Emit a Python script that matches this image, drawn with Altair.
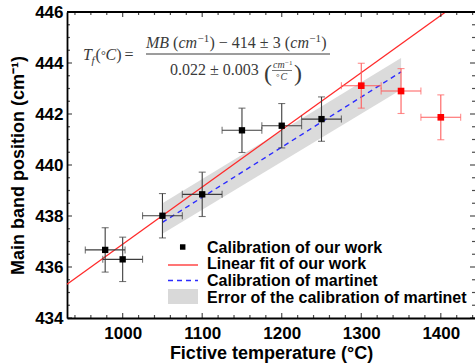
import altair as alt
import pandas as pd

# Calibration points of our work (black)
temp_ours = [978, 1000, 1050, 1100, 1150, 1200, 1250]
mb_ours = [436.67, 436.30, 438.01, 438.85, 441.36, 441.54, 441.80]
temp_err_ours = [25, 25, 25, 25, 25, 25, 25]
mb_err_ours = [0.87, 0.87, 0.87, 0.87, 0.87, 0.87, 0.87]

# High-temperature points (red)
temp_hot = [1300, 1350, 1400]
mb_hot = [443.11, 442.90, 441.87]
temp_err_hot = [25, 25, 25]
mb_err_hot = [0.88, 0.88, 0.88]

# Linear fit of our work, given by its two end points
fit_temp = [930, 1406]
fit_mb = [435.32, 446.0]

# Calibration of Martinet and its error band
martinet_temp = [1050, 1350]
martinet_mb = [437.75, 443.65]
martinet_lo = [437.30, 442.95]
martinet_hi = [438.50, 444.20]

# Axis ticks
x_major = [1000, 1100, 1200, 1300, 1400]
x_minor = [t for t in range(940, 1441, 20) if t % 100 != 0]
y_major = [434, 436, 438, 440, 442, 444, 446]
y_minor = [434.5 + 0.5 * i for i in range(24) if (434.5 + 0.5 * i) % 2 != 0]

legend_labels = [
    "Calibration of our work",
    "Linear fit of our work",
    "Calibration of martinet",
    "Error of the calibration of martinet",
]

W, H = 408, 306
SANS = "Liberation Sans"
SERIF = "Liberation Serif"
EQ = "#3a3a3a"

xscale = alt.Scale(domain=[930, 1443], nice=False, zero=False)
yscale = alt.Scale(domain=[434, 446], nice=False, zero=False)

xaxis = alt.Axis(
    values=x_major, format="d", ticks=False, grid=False,
    domain=True, domainColor="black", domainWidth=1.8,
    labelFont=SANS, labelFontWeight="bold", labelFontSize=17, labelColor="black",
    labelPadding=7,
    title="Fictive temperature (°C)", titleFont=SANS, titleFontWeight="bold",
    titleFontSize=18, titleColor="black", titlePadding=3,
)
yaxis = alt.Axis(
    values=y_major, format="d", ticks=False, grid=False,
    domain=True, domainColor="black", domainWidth=1.8,
    labelFont=SANS, labelFontWeight="bold", labelFontSize=17, labelColor="black",
    labelPadding=4,
    title="Main band position (cm⁻¹)", titleFont=SANS, titleFontWeight="bold",
    titleFontSize=18, titleColor="black", titlePadding=7,
)


def X(field):
    return alt.X(f"{field}:Q", scale=xscale, axis=xaxis)


def Y(field):
    return alt.Y(f"{field}:Q", scale=yscale, axis=yaxis)


def pts_frame(t, mb, te, me):
    df = pd.DataFrame({"t": t, "mb": mb, "te": te, "me": me})
    df["tlo"] = df.t - df.te
    df["thi"] = df.t + df.te
    df["mlo"] = df.mb - df.me
    df["mhi"] = df.mb + df.me
    return df


ours = pts_frame(temp_ours, mb_ours, temp_err_ours, mb_err_ours)
hot = pts_frame(temp_hot, mb_hot, temp_err_hot, mb_err_hot)

layers = []

# Martinet error band and line
band = pd.DataFrame({"t": martinet_temp, "lo": martinet_lo, "hi": martinet_hi})
layers.append(
    alt.Chart(band).mark_area(color="#d9d9d9", opacity=0.95).encode(
        x=X("t"), y=Y("lo"), y2="hi:Q"
    )
)
mart = pd.DataFrame({"t": martinet_temp, "mb": martinet_mb})
layers.append(
    alt.Chart(mart).mark_line(color="#2b2bff", strokeWidth=1.4, strokeDash=[5, 4]).encode(
        x=X("t"), y=Y("mb")
    )
)

# Linear fit
fit = pd.DataFrame({"t": fit_temp, "mb": fit_mb})
layers.append(
    alt.Chart(fit).mark_line(color="#ff2a2a", strokeWidth=1.3).encode(x=X("t"), y=Y("mb"))
)


def error_layers(df, color):
    out = []
    out.append(alt.Chart(df).mark_rule(color=color, strokeWidth=1.1).encode(
        x=X("t"), y=Y("mlo"), y2="mhi:Q"))
    out.append(alt.Chart(df).mark_rule(color=color, strokeWidth=1.1).encode(
        x=X("tlo"), x2="thi:Q", y=Y("mb")))
    for f in ["mlo", "mhi"]:
        out.append(alt.Chart(df).mark_tick(color=color, orient="horizontal", size=7, thickness=1.1).encode(
            x=X("t"), y=Y(f)))
    for f in ["tlo", "thi"]:
        out.append(alt.Chart(df).mark_tick(color=color, orient="vertical", size=7, thickness=1.1).encode(
            x=X(f), y=Y("mb")))
    return out


layers += error_layers(ours, "#3c3c3c")
layers += error_layers(hot, "#ff5c5c")
layers.append(alt.Chart(ours).mark_square(color="black", size=40, opacity=1).encode(x=X("t"), y=Y("mb")))
layers.append(alt.Chart(hot).mark_square(color="#ff0000", size=44, opacity=1).encode(x=X("t"), y=Y("mb")))

# Frame ticks pointing inward, and the top frame line
xmaj = pd.DataFrame({"v": x_major})
xmin = pd.DataFrame({"v": x_minor})
ymaj = pd.DataFrame({"v": y_major})
ymin = pd.DataFrame({"v": y_minor})
for df, size in [(xmaj, 5), (xmin, 3)]:
    layers.append(alt.Chart(df).mark_tick(color="black", orient="vertical", size=size, thickness=1.2).encode(
        x=X("v"), y=alt.value(H - size / 2)))
    layers.append(alt.Chart(df).mark_tick(color="black", orient="vertical", size=size, thickness=1.2).encode(
        x=X("v"), y=alt.value(size / 2)))
for df, size in [(ymaj, 5), (ymin, 3)]:
    layers.append(alt.Chart(df).mark_tick(color="black", orient="horizontal", size=size, thickness=1.2).encode(
        y=Y("v"), x=alt.value(size / 2)))
    layers.append(alt.Chart(df).mark_tick(color="black", orient="horizontal", size=size, thickness=1.2).encode(
        y=Y("v"), x=alt.value(W - size / 2)))

one = pd.DataFrame({"k": [0]})
layers.append(alt.Chart(one).mark_rule(color="black", strokeWidth=1.8).encode(
    x=alt.value(0), x2=alt.value(W), y=alt.value(0)))

# Legend (drawn inside the plot, lower right)
OX, OY = 67, 12
layers.append(alt.Chart(one).mark_square(color="black", size=30, opacity=1).encode(
    x=alt.value(182.7 - OX), y=alt.value(247 - OY)))
layers.append(alt.Chart(one).mark_rule(color="#ff2a2a", strokeWidth=1.3).encode(
    x=alt.value(168 - OX), x2=alt.value(198 - OX), y=alt.value(265 - OY)))
layers.append(alt.Chart(one).mark_rule(color="#2b2bff", strokeWidth=1.4, strokeDash=[5, 4]).encode(
    x=alt.value(168 - OX), x2=alt.value(198 - OX), y=alt.value(280.5 - OY)))
layers.append(alt.Chart(one).mark_rect(color="#d9d9d9").encode(
    x=alt.value(168 - OX), x2=alt.value(198 - OX), y=alt.value(289 - OY), y2=alt.value(304 - OY)))
for i, lab in enumerate(legend_labels):
    layers.append(alt.Chart(one).mark_text(
        text=lab, font=SANS, fontWeight="bold", fontSize=16, color="black",
        align="left", baseline="middle").encode(
        x=alt.value(207 - OX), y=alt.value(247.5 + 16.9 * i - OY)))


# Equation for the fictive temperature
def eq_text(txt, x, y, size=16, italic=False):
    kw = dict(text=txt, font=SERIF, fontSize=size, color=EQ, align="left", baseline="alphabetic")
    if italic:
        kw["fontStyle"] = "italic"
    return alt.Chart(one).mark_text(**kw).encode(x=alt.value(x - OX), y=alt.value(y - OY))


eq_parts = [
    ("T", 83, 60, 16, True),
    ("f", 91.5, 63.5, 11, True),
    ("(", 95.5, 60, 16, False),
    ("°", 101, 59, 12, False),
    ("C", 105.5, 60, 16, True),
    (")", 116.3, 60, 16, False),
    ("=", 124.5, 60, 16, False),
    ("MB", 146, 48, 16, True),
    ("(", 173, 48, 16, False),
    ("cm", 178.5, 48, 16, True),
    ("−1", 197.5, 42, 11, False),
    (") − 414 ± 3 (", 209.5, 48, 16, False),
    ("cm", 290.3, 48, 16, True),
    ("−1", 309.3, 42, 11, False),
    (")", 321.3, 48, 16, False),
    ("0.022 ± 0.003", 170, 75, 16, False),
    ("(", 264, 81, 24, False),
    ("cm", 273, 67.5, 10, True),
    ("−1", 285, 64.5, 7, False),
    ("°", 276, 80, 9, False),
    ("C", 280.5, 80, 10, True),
    (")", 294, 81, 24, False),
]
for txt, x, y, s, it in eq_parts:
    layers.append(eq_text(txt, x, y, s, it))

layers.append(alt.Chart(one).mark_rule(color=EQ, strokeWidth=1).encode(
    x=alt.value(146 - OX), x2=alt.value(330 - OX), y=alt.value(54 - OY)))
layers.append(alt.Chart(one).mark_rule(color=EQ, strokeWidth=0.7).encode(
    x=alt.value(272 - OX), x2=alt.value(292 - OX), y=alt.value(70.5 - OY)))

chart = alt.layer(*layers).properties(
    width=W, height=H,
    padding={"left": OX, "top": OY, "right": 0, "bottom": 46},
    autosize=alt.AutoSizeParams(type="none"),
).configure_view(stroke=None).configure(background="white")

chart.save("out.html", embed_options={"renderer": "svg", "actions": False})
